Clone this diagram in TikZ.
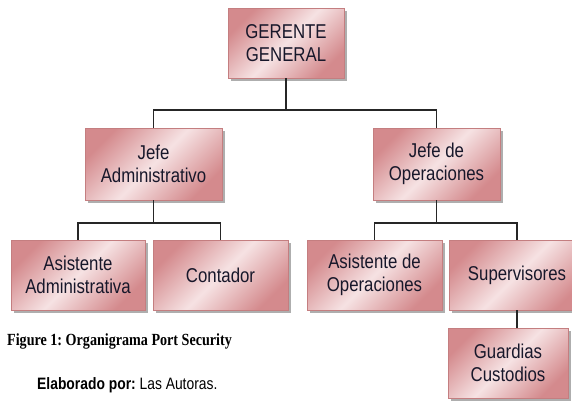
\documentclass[tikz,border=0pt]{standalone}
\usepackage{fontspec}
\usepackage{tikz}
\usetikzlibrary{shadows}
\newfontfamily\boxfont{Liberation Sans}[FakeStretch=0.84]
\newfontfamily\capfont{Liberation Serif}[FakeStretch=0.83]
\frenchspacing

\definecolor{roseDark}{HTML}{D48A8D}
\definecolor{roseLight}{HTML}{F6E2E3}
\definecolor{roseLine}{HTML}{C47E80}
\definecolor{inkBlue}{HTML}{17172A}

\tikzset{
  orgbox/.style={draw=roseLine, line width=0.8pt,
    left color=roseDark, right color=roseDark, middle color=roseLight,
    shading angle=45,
    drop shadow={shadow xshift=3pt, shadow yshift=-3pt, fill=black!45, opacity=0.7},
    align=center, text=inkBlue, inner sep=0pt,
    font=\boxfont\fontsize{20}{23}\selectfont},
  orgline/.style={line width=1.4pt, black!85}
}

\begin{document}
\begin{tikzpicture}[x=1pt, y=-1pt]
    % Page frame
    \fill[white] (0,0) rectangle (572,402);
    \useasboundingbox (0,0) rectangle (572,402);

    % Top level
    \node[orgbox, minimum width=116pt, minimum height=70pt] (ger) at (286,43) {GERENTE\\GENERAL};

    % Second level
    \node[orgbox, minimum width=137pt, minimum height=72pt] (jadm) at (153.5,164) {Jefe\\Administrativo};
    \node[orgbox, minimum width=127pt, minimum height=72pt] (jope) at (436.5,164) {Jefe de\\Operaciones};

    % Third level
    \node[orgbox, minimum width=134pt, minimum height=70pt] (asadm) at (78,275) {Asistente\\Administrativa};
    \node[orgbox, minimum width=135pt, minimum height=70pt] (cont) at (220.5,275) {Contador};
    \node[orgbox, minimum width=135pt, minimum height=70pt] (asope) at (374.5,275) {Asistente de\\Operaciones};
    \node[orgbox, minimum width=136pt, minimum height=70pt] (sup) at (517,275) {Supervisores};

    % Fourth level
    \node[orgbox, minimum width=120pt, minimum height=70pt] (guard) at (508,363) {Guardias\\Custodios};

    % Bus points
    \coordinate (busA) at (286,110);
    \coordinate (busB) at (153.5,223);
    \coordinate (busC) at (436.5,223);

    % Connectors
    \draw[orgline] (ger.south) -- (busA);
    \draw[orgline] (jadm.north) |- (busA) -| (jope.north);
    \draw[orgline] (jadm.south) -- (busB);
    \draw[orgline] (asadm.north) |- (busB) -| (cont.north);
    \draw[orgline] (jope.south) -- (busC);
    \draw[orgline] (asope.north) |- (busC) -| (sup.north);
    \draw[orgline] (sup.south) -- (sup.south |- guard.north);

    % Captions
    \node[anchor=base west, inner sep=0pt, font=\capfont\bfseries\fontsize{17}{20}\selectfont] (fig) at (7,345) {Figure 1: Organigrama Port Security};
    \node[anchor=base west, inner sep=0pt, font=\boxfont\fontsize{16.5}{20}\selectfont] (elab) at (37,389) {\textbf{Elaborado por:} Las Autoras.};
  \end{tikzpicture}
\end{document}
